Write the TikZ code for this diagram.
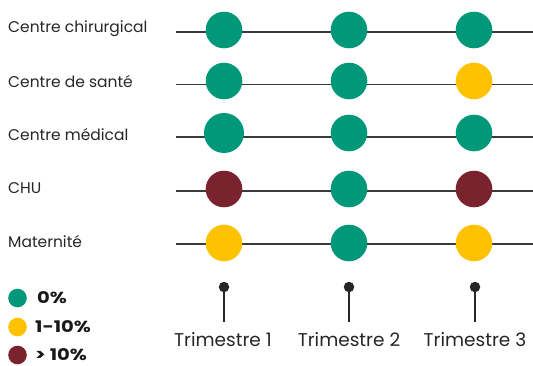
\documentclass[tikz,border=0pt]{standalone}
\usepackage{fontspec}
\setmainfont{Poppins}
\newfontfamily\keyfont[FakeStretch=1.22]{Poppins}
\usepackage{tikz}
\definecolor{zero}{HTML}{009878}
\definecolor{low}{HTML}{FFC200}
\definecolor{high}{HTML}{7A222D}
\definecolor{rule}{HTML}{3A3A3A}
\tikzstyle{Zero}=[minimum size=36.6pt, inner sep=0pt, fill=zero, shape=circle]
\tikzstyle{Low}=[minimum size=36.6pt, inner sep=0pt, fill=low, shape=circle]
\tikzstyle{High}=[minimum size=36.6pt, inner sep=0pt, fill=high, shape=circle]
\tikzstyle{Key}=[minimum size=18.6pt, inner sep=0pt, shape=circle]
\tikzstyle{Service}=[anchor=west, inner sep=0pt, font=\fontsize{15.5}{18}\selectfont, text=black!85]
\tikzstyle{Quarter}=[inner sep=0pt, font=\fontsize{18.5}{22}\selectfont, text=black!85]
\tikzstyle{KeyText}=[anchor=west, inner sep=0pt, font=\keyfont\bfseries\fontsize{16}{19}\selectfont, text=black!90]
\tikzstyle{Pin}=[minimum size=10.5pt, inner sep=0pt, fill=black!85, shape=circle]
\tikzstyle{track}=[line width=1.3pt, draw=rule]
\tikzstyle{stem}=[line width=2.6pt, draw=black!85]
\pgfdeclarelayer{nodelayer}
\pgfdeclarelayer{edgelayer}
\pgfsetlayers{edgelayer, nodelayer, main}
\begin{document}
\begin{tikzpicture}[x=1pt, y=-1pt]
	\useasboundingbox (0, 0) rectangle (533, 365);
	\begin{pgfonlayer}{nodelayer}
		% services
		\node [style=Service] (chir) at (8, 29) {Centre chirurgical};
		\node [style=Service] (sante) at (8, 82) {Centre de santé};
		\node [style=Service] (medical) at (8, 134.5) {Centre médical};
		\node [style=Service] (chu) at (8, 188) {CHU};
		\node [style=Service] (mater) at (8, 242) {Maternité};
		\coordinate (chir_start) at (176, 32);
		\coordinate (chir_end) at (533, 32);
		\coordinate (sante_start) at (176, 84.5);
		\coordinate (sante_end) at (533, 84.5);
		\coordinate (medical_start) at (176, 137);
		\coordinate (medical_end) at (533, 137);
		\coordinate (chu_start) at (176, 191);
		\coordinate (chu_end) at (533, 191);
		\coordinate (mater_start) at (176, 244);
		\coordinate (mater_end) at (533, 244);
		% rates
		\node [style=Zero] (chir_1) at (224, 30) {};
		\node [style=Zero] (chir_2) at (349, 30) {};
		\node [style=Zero] (chir_3) at (474, 30) {};
		\node [style=Zero] (sante_1) at (224, 81) {};
		\node [style=Zero] (sante_2) at (349, 81) {};
		\node [style=Low] (sante_3) at (474, 81) {};
		\node [style=Zero, minimum size=40pt] (medical_1) at (224, 133) {};
		\node [style=Zero] (medical_2) at (349, 133) {};
		\node [style=Zero] (medical_3) at (474, 133) {};
		\node [style=High] (chu_1) at (224, 189) {};
		\node [style=Zero] (chu_2) at (349, 189) {};
		\node [style=High] (chu_3) at (474, 189) {};
		\node [style=Low] (mater_1) at (224, 243) {};
		\node [style=Zero] (mater_2) at (349, 243) {};
		\node [style=Low] (mater_3) at (474, 243) {};
		% quarters
		\node [style=Pin] (pin_1) at (224, 287) {};
		\node [style=Pin] (pin_2) at (349, 287) {};
		\node [style=Pin] (pin_3) at (475, 287) {};
		\coordinate (foot_1) at (224, 322);
		\coordinate (foot_2) at (349, 322);
		\coordinate (foot_3) at (475, 322);
		\node [style=Quarter] (tri_1) at (223, 340) {Trimestre 1};
		\node [style=Quarter] (tri_2) at (349, 340) {Trimestre 2};
		\node [style=Quarter] (tri_3) at (475, 340) {Trimestre 3};
		% legend
		\node [style=Key, fill=zero] (key_zero) at (17.5, 298) {};
		\node [style=Key, fill=low] (key_low) at (17.5, 327) {};
		\node [style=Key, fill=high] (key_high) at (17.5, 355) {};
		\node [style=KeyText] (lab_zero) at (37, 298) {0\%};
		\node [style=KeyText] (lab_low) at (35, 327) {1-10\%};
		\node [style=KeyText] (lab_high) at (35, 355) {> 10\%};
	\end{pgfonlayer}
	\begin{pgfonlayer}{edgelayer}
		\draw [style=track] (chir_start) -- (chir_end);
		\draw [style=track] (sante_start) -- (sante_end);
		\draw [style=track] (medical_start) -- (medical_end);
		\draw [style=track] (chu_start) -- (chu_end);
		\draw [style=track] (mater_start) -- (mater_end);

		% pins
		\draw [style=stem] (pin_1.center) -- (foot_1);
		\draw [style=stem] (pin_2.center) -- (foot_2);
		\draw [style=stem] (pin_3.center) -- (foot_3);
	\end{pgfonlayer}
\end{tikzpicture}
\end{document}
